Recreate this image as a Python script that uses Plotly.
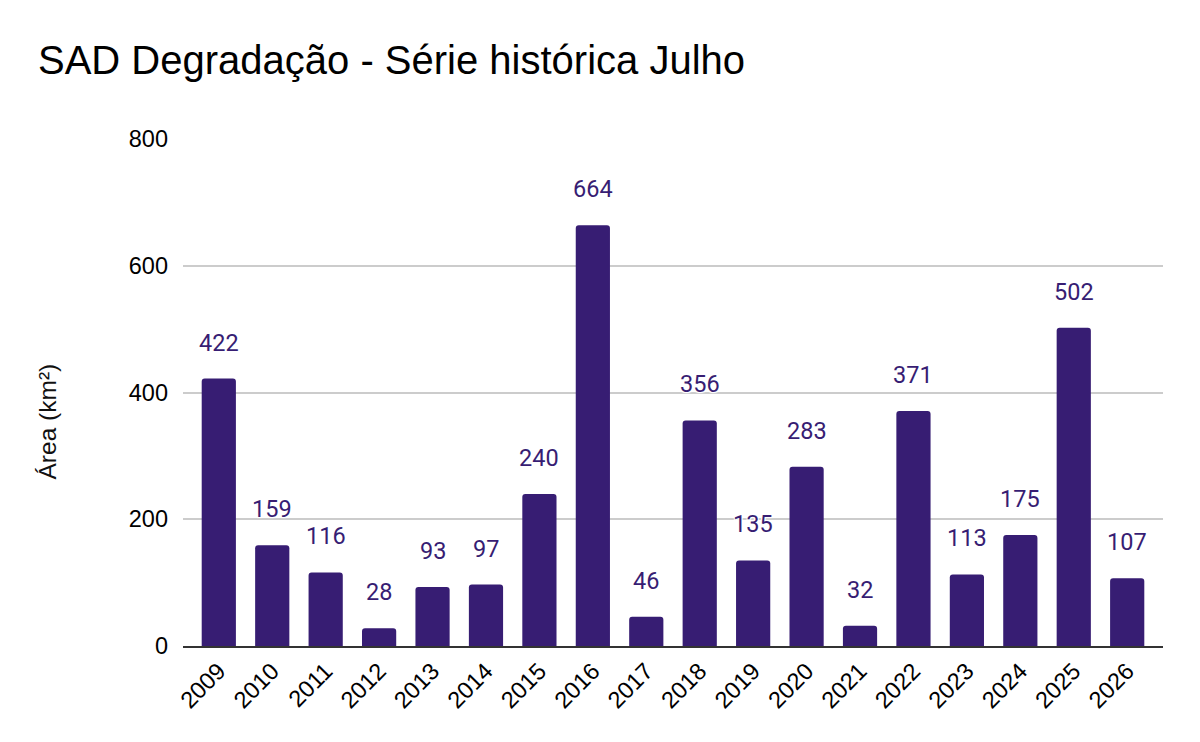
import plotly.graph_objects as go

years = ["2009", "2010", "2011", "2012", "2013", "2014", "2015", "2016", "2017",
         "2018", "2019", "2020", "2021", "2022", "2023", "2024", "2025", "2026"]
area = [422, 159, 116, 28, 93, 97, 240, 664, 46, 356, 135, 283, 32, 371, 113, 175, 502, 107]
y_ticks = [0, 200, 400, 600, 800]

BAR = "#371d73"
AX_FONT = "Liberation Sans, Arial, sans-serif"

fig = go.Figure()
fig.add_trace(go.Bar(
    x=list(range(len(years))), y=area,
    marker=dict(color=BAR, cornerradius=3, line=dict(width=0)),
    hoverinfo="skip",
))

shadow = "1px 1px 1px white, -1px -1px 1px white, 1px -1px 1px white, -1px 1px 1px white"
for i, v in enumerate(area):
    fig.add_annotation(
        x=i, y=v, xref="x", yref="y", text=str(v), showarrow=False,
        yshift=36, yanchor="middle",
        font=dict(family="Roboto", size=23.5, color=BAR, shadow=shadow),
    )

fig.add_annotation(
    xref="paper", yref="paper", x=(47 - 183) / 980, y=0.5 - 29 / 507,
    text="Área (km²)", textangle=-90, showarrow=False,
    xanchor="center", yanchor="middle",
    font=dict(family=AX_FONT, size=24.5, color="#111111"),
)

fig.update_layout(
    width=1200, height=742,
    paper_bgcolor="white", plot_bgcolor="white",
    margin=dict(l=183, r=37, t=139, b=96),
    bargap=0.36,
    showlegend=False,
    title=dict(
        text="SAD Degradação - Série histórica Julho",
        xref="container", yref="container",
        x=38 / 1200, y=1 - 60 / 742, xanchor="left", yanchor="middle",
        font=dict(family=AX_FONT, size=40, color="#000000"),
    ),
    xaxis=dict(
        tickmode="array", tickvals=list(range(len(years))), ticktext=years,
        range=[-0.67, len(years) - 1 + 0.67],
        tickangle=-45, showgrid=False, zeroline=False,
        showline=True, linecolor="#333333", linewidth=2,
        ticks="", tickfont=dict(family=AX_FONT, size=23.5, color="#000000"),
        fixedrange=True,
    ),
    yaxis=dict(
        range=[0, 800], tickmode="array", tickvals=y_ticks,
        showgrid=True, gridcolor="#cccccc", gridwidth=1.5,
        zeroline=False, showline=False, ticks="",
        ticklabelstandoff=14,
        tickfont=dict(family=AX_FONT, size=23.5, color="#000000"),
        fixedrange=True,
    ),
)

fig.write_html("out.html", config={"displayModeBar": False},
               post_script="document.body.style.margin='0';")
